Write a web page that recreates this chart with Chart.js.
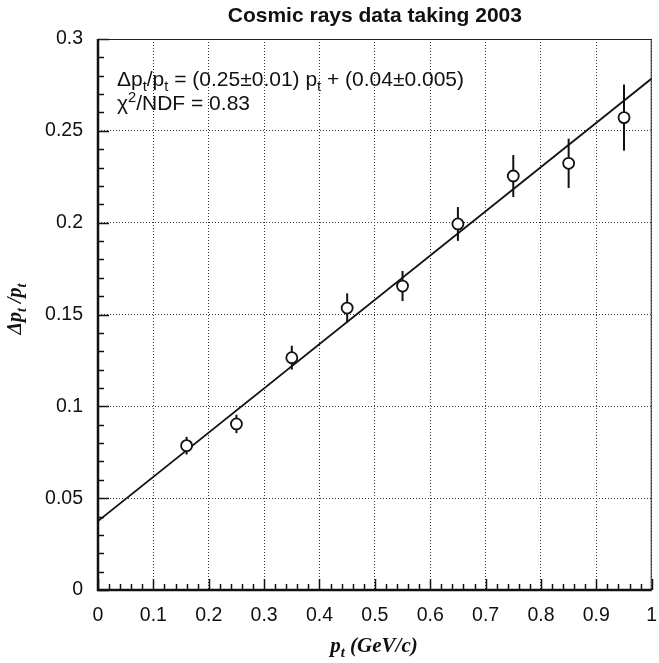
<!DOCTYPE html>
<html><head><meta charset="utf-8">
<script src="https://cdn.jsdelivr.net/npm/chart.js@4/dist/chart.umd.min.js"></script>
<style>html,body{margin:0;padding:0;background:#fff}</style>
</head><body>
<canvas id="c" width="659" height="663" style="display:block;width:659px;height:663px"></canvas>
<script>
// ---- data ----
const titleText = 'Cosmic rays data taking 2003';
const ptValues = [0.16, 0.25, 0.35, 0.45, 0.55, 0.65, 0.75, 0.85, 0.95];
const resolution = [0.0786, 0.0904, 0.1265, 0.1535, 0.1655, 0.1993, 0.2254, 0.2323, 0.2572];
const resolutionErr = [0.0048, 0.0050, 0.0065, 0.0080, 0.0082, 0.0092, 0.0114, 0.0134, 0.0180];
const fitX = [0, 1];
const fitY = [0.0375, 0.2785];
const xTickValues = [0, 0.1, 0.2, 0.3, 0.4, 0.5, 0.6, 0.7, 0.8, 0.9, 1];
const xTickLabels = ['0', '0.1', '0.2', '0.3', '0.4', '0.5', '0.6', '0.7', '0.8', '0.9', '1'];
const yTickValues = [0, 0.05, 0.1, 0.15, 0.2, 0.25, 0.3];
const yTickLabels = ['0', '0.05', '0.1', '0.15', '0.2', '0.25', '0.3'];
const fitLine1 = [['Δp', 0], ['t', 1], ['/p', 0], ['t', 1], [' = (0.25±0.01) p', 0], ['t', 1], [' + (0.04±0.005)', 0]];
const fitLine2 = [['χ', 0], ['2', 2], ['/NDF = 0.83', 0]];
const xTitle = [['p', 0], ['t', 1], [' (GeV/c)', 0]];
const yTitle = [['Δp', 0], ['t', 1], [' /p', 0], ['t', 1]];

const SANS = "'Liberation Sans', Arial, Helvetica, sans-serif";
const SERIF = "'Liberation Serif', 'Times New Roman', serif";

function drawRich(ctx, parts, x, y, size, style, fam, align) {
  const fontFor = p => style + ' ' + (p[1] ? size * 0.7 : size) + 'px ' + fam;
  const widths = parts.map(p => { ctx.font = fontFor(p); return ctx.measureText(p[0]).width; });
  const total = widths.reduce((a, b) => a + b, 0);
  let cx = align === 'center' ? x - total / 2 : x;
  parts.forEach((p, i) => {
    ctx.font = fontFor(p);
    const dy = p[1] === 1 ? size * 0.25 : (p[1] === 2 ? -size * 0.38 : 0);
    ctx.fillText(p[0], cx, y + dy);
    cx += widths[i];
  });
}

const decorPlugin = {
  id: 'decor',
  beforeDatasetsDraw(chart) {
    const ctx = chart.ctx, xs = chart.scales.x, ys = chart.scales.y;
    ctx.save();
    ctx.strokeStyle = '#111';
    ctx.lineWidth = 2;
    ptValues.forEach((v, i) => {
      const px = xs.getPixelForValue(v);
      ctx.beginPath();
      ctx.moveTo(px, ys.getPixelForValue(resolution[i] - resolutionErr[i]));
      ctx.lineTo(px, ys.getPixelForValue(resolution[i] + resolutionErr[i]));
      ctx.stroke();
    });
    ctx.restore();
  },
  afterDraw(chart) {
    const ctx = chart.ctx, xs = chart.scales.x, ys = chart.scales.y;
    const a = chart.chartArea;
    ctx.save();
    // tick marks inside the frame
    ctx.strokeStyle = '#111';
    ctx.lineWidth = 1.5;
    for (let k = 0; k <= 50; k++) {
      const px = Math.round(xs.getPixelForValue(k / 50)) + 0.5;
      const len = k % 5 === 0 ? 11 : 6;
      ctx.beginPath(); ctx.moveTo(px, a.bottom); ctx.lineTo(px, a.bottom - len); ctx.stroke();
    }
    for (let k = 0; k <= 30; k++) {
      const py = Math.round(ys.getPixelForValue(k / 100)) + 0.5;
      const len = k % 5 === 0 ? 11 : 6;
      ctx.beginPath(); ctx.moveTo(a.left, py); ctx.lineTo(a.left + len, py); ctx.stroke();
    }
    // frame
    ctx.strokeStyle = '#222';
    ctx.lineWidth = 1;
    ctx.beginPath();
    ctx.moveTo(a.left, a.top + 0.5); ctx.lineTo(a.right - 0.5, a.top + 0.5); ctx.lineTo(a.right - 0.5, a.bottom);
    ctx.stroke();
    ctx.strokeStyle = '#111';
    ctx.lineWidth = 2.5;
    ctx.beginPath();
    ctx.moveTo(a.left, a.top); ctx.lineTo(a.left, a.bottom); ctx.lineTo(a.right, a.bottom);
    ctx.stroke();
    ctx.fillStyle = '#111';
    ctx.textBaseline = 'alphabetic';
    ctx.textAlign = 'left';
    // title (centred over the plot frame)
    drawRich(ctx, [[titleText, 0]], (a.left + a.right) / 2, 22, 21, 'bold', SANS, 'center');
    // fit text
    drawRich(ctx, fitLine1, 117, 86, 21, 'normal', SANS, 'left');
    drawRich(ctx, fitLine2, 117, 110, 21, 'normal', SANS, 'left');
    // axis titles
    drawRich(ctx, xTitle, 374, 652, 21, 'italic bold', SERIF, 'center');
    ctx.translate(21, 309);
    ctx.rotate(-Math.PI / 2);
    drawRich(ctx, yTitle, 0, 0, 20, 'italic bold', SERIF, 'center');
    ctx.restore();
  }
};

new Chart(document.getElementById('c'), {
  type: 'scatter',
  data: {
    datasets: [
      {
        type: 'line',
        label: 'fit',
        data: fitX.map((x, i) => ({ x, y: fitY[i] })),
        borderColor: '#111',
        borderWidth: 1.8,
        pointRadius: 0,
        fill: false,
        order: 2
      },
      {
        label: 'data',
        data: ptValues.map((x, i) => ({ x, y: resolution[i] })),
        pointStyle: 'circle',
        pointRadius: 5.5,
        pointBorderWidth: 1.8,
        pointBorderColor: '#111',
        pointBackgroundColor: '#fff',
        order: 1
      }
    ]
  },
  options: {
    responsive: false,
    devicePixelRatio: 1,
    animation: false,
    layout: { padding: { left: 0, right: 4, top: 39, bottom: 0 } },
    plugins: {
      legend: { display: false },
      tooltip: { enabled: false },
      title: { display: false }
    },
    scales: {
      x: {
        type: 'linear', min: 0, max: 1,
        afterBuildTicks: s => { s.ticks = xTickValues.map(v => ({ value: v })); },
        afterFit: s => { s.height = 73; s.paddingRight = 0; s.paddingLeft = 0; },
        ticks: {
          autoSkip: false, maxRotation: 0, padding: 14,
          color: '#111', font: { family: SANS, size: 19.5 },
          callback: (v, i) => xTickLabels[i]
        },
        grid: { color: '#333', lineWidth: 1, drawTicks: false },
        border: { display: false, dash: [1, 2] }
      },
      y: {
        type: 'linear', min: 0, max: 0.3,
        afterBuildTicks: s => { s.ticks = yTickValues.map(v => ({ value: v })); },
        afterFit: s => { s.width = 98; s.paddingTop = 0; s.paddingBottom = 0; },
        ticks: {
          autoSkip: false, padding: 15,
          color: '#111', font: { family: SANS, size: 19.5 },
          callback: (v, i) => yTickLabels[i]
        },
        grid: { color: '#333', lineWidth: 1, drawTicks: false },
        border: { display: false, dash: [1, 2] }
      }
    }
  },
  plugins: [decorPlugin]
});
</script>
</body></html>
